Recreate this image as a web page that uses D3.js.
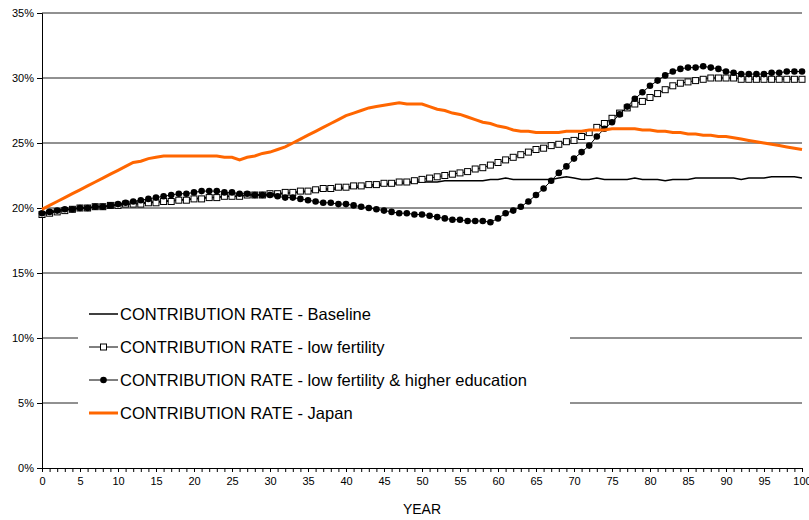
<!DOCTYPE html>
<html>
<head>
<meta charset="utf-8">
<script src="https://cdn.jsdelivr.net/npm/d3@7"></script>
<style>
  body { margin: 0; background: white; }
  text { font-family: "Liberation Sans", Arial, sans-serif; }
</style>
</head>
<body>
<div id="chart"></div>
<script>
// year 0..100
const years = d3.range(0, 101);

const baseline = [
  19.6,19.7,19.8,19.9,19.9,20.0,20.0,20.1,20.1,20.2,
  20.2,20.3,20.3,20.4,20.4,20.5,20.5,20.6,20.6,20.7,
  20.7,20.8,20.8,20.8,20.9,20.9,20.9,21.0,21.0,21.0,
  21.0,21.1,21.1,21.2,21.2,21.3,21.3,21.4,21.4,21.5,
  21.5,21.6,21.6,21.7,21.7,21.8,21.8,21.9,21.9,22.0,
  22.0,22.0,22.0,22.1,22.1,22.1,22.1,22.1,22.1,22.2,
  22.2,22.3,22.2,22.2,22.2,22.2,22.2,22.2,22.3,22.4,
  22.3,22.2,22.2,22.3,22.2,22.2,22.2,22.2,22.3,22.2,
  22.2,22.2,22.1,22.2,22.2,22.2,22.3,22.3,22.3,22.3,
  22.3,22.3,22.2,22.3,22.3,22.3,22.4,22.4,22.4,22.4,
  22.3
];

const lowFertility = [
  19.5,19.6,19.7,19.8,19.9,20.0,20.0,20.1,20.1,20.2,
  20.2,20.3,20.3,20.3,20.4,20.4,20.5,20.5,20.6,20.6,
  20.7,20.7,20.8,20.8,20.9,20.9,20.9,21.0,21.0,21.0,
  21.1,21.1,21.2,21.2,21.3,21.3,21.4,21.5,21.5,21.6,
  21.6,21.7,21.7,21.8,21.8,21.9,21.9,22.0,22.0,22.1,
  22.2,22.3,22.4,22.5,22.6,22.7,22.8,23.0,23.1,23.3,
  23.5,23.7,23.9,24.1,24.3,24.5,24.6,24.8,24.9,25.1,
  25.2,25.5,25.8,26.2,26.5,26.9,27.3,27.7,28.0,28.2,
  28.5,28.8,29.1,29.4,29.6,29.7,29.8,29.9,30.0,30.0,
  30.0,30.0,29.9,29.9,29.9,29.9,29.9,29.9,29.9,29.9,
  29.9
];

const lowFertHighEdu = [
  19.6,19.7,19.8,19.9,19.9,20.0,20.0,20.1,20.1,20.2,
  20.3,20.4,20.5,20.6,20.7,20.8,20.9,21.0,21.1,21.1,
  21.2,21.3,21.3,21.3,21.2,21.2,21.1,21.1,21.0,21.0,
  21.0,20.9,20.8,20.8,20.7,20.6,20.5,20.4,20.4,20.3,
  20.3,20.2,20.1,20.0,19.9,19.8,19.7,19.6,19.6,19.5,
  19.5,19.4,19.3,19.2,19.1,19.1,19.0,19.0,19.0,18.9,
  19.2,19.6,19.8,20.1,20.5,21.0,21.5,22.1,22.7,23.2,
  23.8,24.3,24.8,25.5,26.1,26.6,27.2,27.8,28.4,28.9,
  29.4,29.8,30.2,30.5,30.7,30.8,30.8,30.9,30.8,30.7,
  30.5,30.4,30.3,30.3,30.3,30.3,30.4,30.4,30.5,30.5,
  30.5
];

const japan = [
  19.9,20.2,20.5,20.8,21.1,21.4,21.7,22.0,22.3,22.6,
  22.9,23.2,23.5,23.6,23.8,23.9,24.0,24.0,24.0,24.0,
  24.0,24.0,24.0,24.0,23.9,23.9,23.7,23.9,24.0,24.2,
  24.3,24.5,24.7,25.0,25.3,25.6,25.9,26.2,26.5,26.8,
  27.1,27.3,27.5,27.7,27.8,27.9,28.0,28.1,28.0,28.0,
  28.0,27.8,27.6,27.5,27.3,27.2,27.0,26.8,26.6,26.5,
  26.3,26.2,26.0,25.9,25.9,25.8,25.8,25.8,25.8,25.9,
  25.9,25.9,26.0,26.0,26.0,26.1,26.1,26.1,26.1,26.0,
  26.0,25.9,25.9,25.8,25.8,25.7,25.7,25.6,25.6,25.5,
  25.5,25.4,25.3,25.2,25.1,25.0,24.9,24.8,24.7,24.6,
  24.5
];

const yTicks = [0, 5, 10, 15, 20, 25, 30, 35];

const legendNames = [
  "CONTRIBUTION RATE - Baseline",
  "CONTRIBUTION RATE - low fertility",
  "CONTRIBUTION RATE - low fertility & higher education",
  "CONTRIBUTION RATE - Japan"
];

const width = 809, height = 520;
const margin = {top: 13, right: 7, bottom: 52, left: 42};

const svg = d3.select("#chart").append("svg")
  .attr("width", width).attr("height", height);

const x = d3.scaleLinear().domain([0, 100]).range([margin.left, width - margin.right]);
const y = d3.scaleLinear().domain([0, 35]).range([height - margin.bottom, margin.top]);

// gridlines
svg.append("g").selectAll("line")
  .data(yTicks.filter(d => d > 0))
  .enter().append("line")
  .attr("x1", x(0)).attr("x2", x(100))
  .attr("y1", d => y(d)).attr("y2", d => y(d))
  .attr("stroke", "#222").attr("stroke-width", 1);

// y axis
const yAxis = svg.append("g")
  .attr("transform", `translate(${x(0)},0)`)
  .call(d3.axisLeft(y).tickValues(yTicks).tickSize(5).tickFormat(d => d + "%"));
yAxis.select(".domain").attr("stroke", "#000");
yAxis.selectAll("text").style("font-size", "11px").attr("fill", "#000");

// x axis: minor ticks every year
const xAxis = svg.append("g")
  .attr("transform", `translate(0,${y(0)})`)
  .call(d3.axisBottom(x).tickValues(years).tickSize(4)
    .tickFormat(d => d % 5 === 0 ? d : ""));
xAxis.select(".domain").attr("stroke", "#000");
xAxis.selectAll("text").style("font-size", "11px").attr("fill", "#000").attr("dy", "0.9em");

svg.append("text")
  .attr("x", x(50)).attr("y", 514)
  .attr("text-anchor", "middle")
  .style("font-size", "14px")
  .text("YEAR");

const line = d3.line().x((d, i) => x(years[i])).y(d => y(d));

// series
svg.append("path").datum(baseline)
  .attr("d", line).attr("fill", "none")
  .attr("stroke", "#000").attr("stroke-width", 1.5);

svg.append("path").datum(lowFertility)
  .attr("d", line).attr("fill", "none")
  .attr("stroke", "#000").attr("stroke-width", 1);
svg.append("g").selectAll("rect")
  .data(lowFertility).enter().append("rect")
  .attr("x", (d, i) => x(years[i]) - 3)
  .attr("y", d => y(d) - 3)
  .attr("width", 6).attr("height", 6)
  .attr("fill", "#fff").attr("stroke", "#000").attr("stroke-width", 1);

svg.append("path").datum(lowFertHighEdu)
  .attr("d", line).attr("fill", "none")
  .attr("stroke", "#000").attr("stroke-width", 1);
svg.append("g").selectAll("circle")
  .data(lowFertHighEdu).enter().append("circle")
  .attr("cx", (d, i) => x(years[i]))
  .attr("cy", d => y(d))
  .attr("r", 3.3).attr("fill", "#000");

svg.append("path").datum(japan)
  .attr("d", line).attr("fill", "none")
  .attr("stroke", "#ff6600").attr("stroke-width", 3);

// legend
const legend = svg.append("g");
legend.append("rect")
  .attr("x", 78).attr("y", 296).attr("width", 492).attr("height", 130)
  .attr("fill", "#fff");

const rowY = [314, 347, 380, 413];
legendNames.forEach((name, i) => {
  const g = legend.append("g").attr("transform", `translate(0,${rowY[i]})`);
  g.append("line").attr("x1", 89).attr("x2", 118).attr("y1", 0).attr("y2", 0)
    .attr("stroke", i === 3 ? "#ff6600" : "#000")
    .attr("stroke-width", i === 3 ? 3 : (i === 0 ? 1.5 : 1));
  if (i === 1) g.append("rect").attr("x", 100.5).attr("y", -3).attr("width", 6).attr("height", 6)
    .attr("fill", "#fff").attr("stroke", "#000");
  if (i === 2) g.append("circle").attr("cx", 103.5).attr("cy", 0).attr("r", 3.3).attr("fill", "#000");
  g.append("text").attr("x", 120).attr("y", 6)
    .style("font-size", "16.5px").text(name);
});
</script>
</body>
</html>
